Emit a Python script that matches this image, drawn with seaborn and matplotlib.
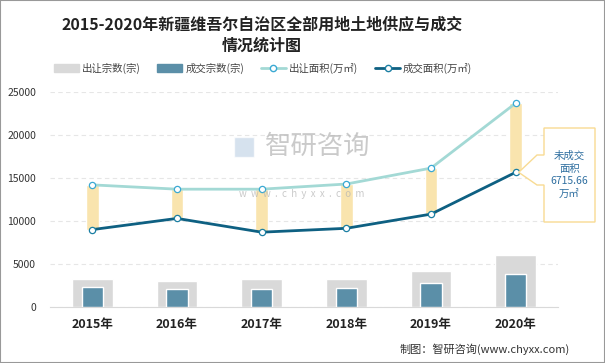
import numpy as np
import pandas as pd
import seaborn as sns
import matplotlib.pyplot as plt
from matplotlib.lines import Line2D
from matplotlib.patches import Patch, Polygon, Rectangle

# data
years = ["2015年", "2016年", "2017年", "2018年", "2019年", "2020年"]
supply_count = [3230, 3000, 3230, 3230, 4160, 6030]      # 出让宗数(宗)
deal_count = [2300, 2060, 2060, 2180, 2760, 3810]        # 成交宗数(宗)
supply_area = [14200, 13700, 13700, 14300, 16150, 23700]  # 出让面积(万㎡)
deal_area = [9000, 10300, 8700, 9150, 10800, 15660]      # 成交面积(万㎡)
gap_label = "未成交\n面积\n6715.66\n万㎡"

df = pd.DataFrame({"year": years, "supply_count": supply_count, "deal_count": deal_count,
                   "supply_area": supply_area, "deal_area": deal_area})
df["x"] = np.arange(len(years))

sns.set_style("white")
plt.rcParams['font.family'] = ['Noto Sans CJK SC', 'DejaVu Sans']

fig = plt.figure(figsize=(6.05, 3.63), dpi=100)
ax = fig.add_axes([50 / 605, 1 - 307 / 363, 508 / 605, 215 / 363])

# bars
sns.barplot(data=df, x="year", y="supply_count", color="#d9d9d9", width=0.48,
            saturation=1, ax=ax, zorder=2)
sns.barplot(data=df, x="year", y="deal_count", color="#5b8fa8", width=0.25,
            saturation=1, ax=ax, zorder=3)

# yellow gap bands between supply and deal area
ax.bar(df["x"], df["supply_area"] - df["deal_area"], bottom=df["deal_area"],
       width=0.15, color="#f9e4ae", zorder=4)

# lines
sns.lineplot(data=df, x="x", y="supply_area", color="#a3d9d5", linewidth=2,
             marker="o", markersize=4.5, markerfacecolor="white", markeredgecolor="#3ba9d3",
             markeredgewidth=0.9, ax=ax, zorder=5)
sns.lineplot(data=df, x="x", y="deal_area", color="#0e6082", linewidth=2,
             marker="o", markersize=4.5, markerfacecolor="white", markeredgecolor="#1b7fa3",
             markeredgewidth=0.9, ax=ax, zorder=6)

ax.set_xlim(-0.5, 5.5)
ax.set_ylim(0, 25000)
ax.set_yticks([0, 5000, 10000, 15000, 20000, 25000])
ax.set_xlabel("")
ax.set_ylabel("")
ax.grid(axis="y", color="#e6e6e6", linestyle=(0, (4, 3)), linewidth=0.8, zorder=0)
ax.set_axisbelow(True)
for s in ["top", "right", "left"]:
    ax.spines[s].set_visible(False)
ax.spines["bottom"].set_color("#d9d9d9")
ax.tick_params(axis="y", labelsize=7.5, colors="#333333", length=0, pad=10)
ax.tick_params(axis="x", length=0, pad=8)
for lab in ax.get_xticklabels():
    lab.set_fontsize(9)
    lab.set_fontweight("bold")
    lab.set_color("#222222")

# callout for the 2020 gap
tip = ax.transData.transform((5, deal_area[-1]))
tx, ty = fig.transFigure.inverted().transform(tip)
W, H = 605, 363
def fpt(px, py):
    return (px / W, 1 - py / H)
pts = [fpt(544, 128), fpt(595, 128), fpt(595, 222), fpt(544, 222), fpt(544, 185),
       fpt(537, 185), (tx + 3 / W, ty), fpt(537, 155), fpt(544, 155)]
fig.add_artist(Polygon(pts, closed=True, transform=fig.transFigure, facecolor="white",
                       edgecolor="#f8db93", linewidth=1, zorder=10))
fig.text(569.5 / W, 1 - 175 / H, gap_label, ha="center", va="center", fontsize=7.5,
         color="#2f6fa0", linespacing=1.35, zorder=11)

# title
fig.text(262 / W, 1 - 35 / H, "2015-2020年新疆维吾尔自治区全部用地土地供应与成交\n情况统计图",
         ha="center", va="center", fontsize=11.5, fontweight="bold", color="#222222",
         linespacing=1.45)

# legend
handles = [Patch(color="#d9d9d9"), Patch(color="#5b8fa8"),
           Line2D([], [], color="#a3d9d5", lw=2, marker="o", markersize=4.5,
                  markerfacecolor="white", markeredgecolor="#3ba9d3"),
           Line2D([], [], color="#0e6082", lw=2, marker="o", markersize=4.5,
                  markerfacecolor="white", markeredgecolor="#1b7fa3")]
labels = ["出让宗数(宗)", "成交宗数(宗)", "出让面积(万㎡)", "成交面积(万㎡)"]
fig.legend(handles, labels, loc="center", bbox_to_anchor=(263 / W, 1 - 68 / H), ncol=4,
           frameon=False, fontsize=7.5, handlelength=2.4, handleheight=0.8,
           columnspacing=1.6, handletextpad=0.3, labelcolor="#444444")

# watermark
fig.text(318 / W, 1 - 146 / H, "智研咨询", fontsize=19, color="#b4b4b4", alpha=0.7,
         ha="center", va="center", zorder=20)
fig.text(302 / W, 1 - 194 / H, "w  w  w  .  c  h  y  x  x  .  c  o  m", fontsize=7,
         color="#b4b4b4", alpha=0.7, ha="center", va="center", zorder=20)
fig.add_artist(Rectangle(fpt(234, 157), 20 / W, 20 / H, transform=fig.transFigure,
                         facecolor="#c5d6e8", alpha=0.7, zorder=20))

# footer
fig.text(570 / W, 1 - 349 / H, "制图：智研咨询(www.chyxx.com)", ha="right", va="center",
         fontsize=8, color="#333333")

# frame
fig.add_artist(Rectangle((0, 0), 1, 1, transform=fig.transFigure, fill=False,
                         edgecolor="#999999", linewidth=1.5))

fig.savefig("out.png", dpi=100)
